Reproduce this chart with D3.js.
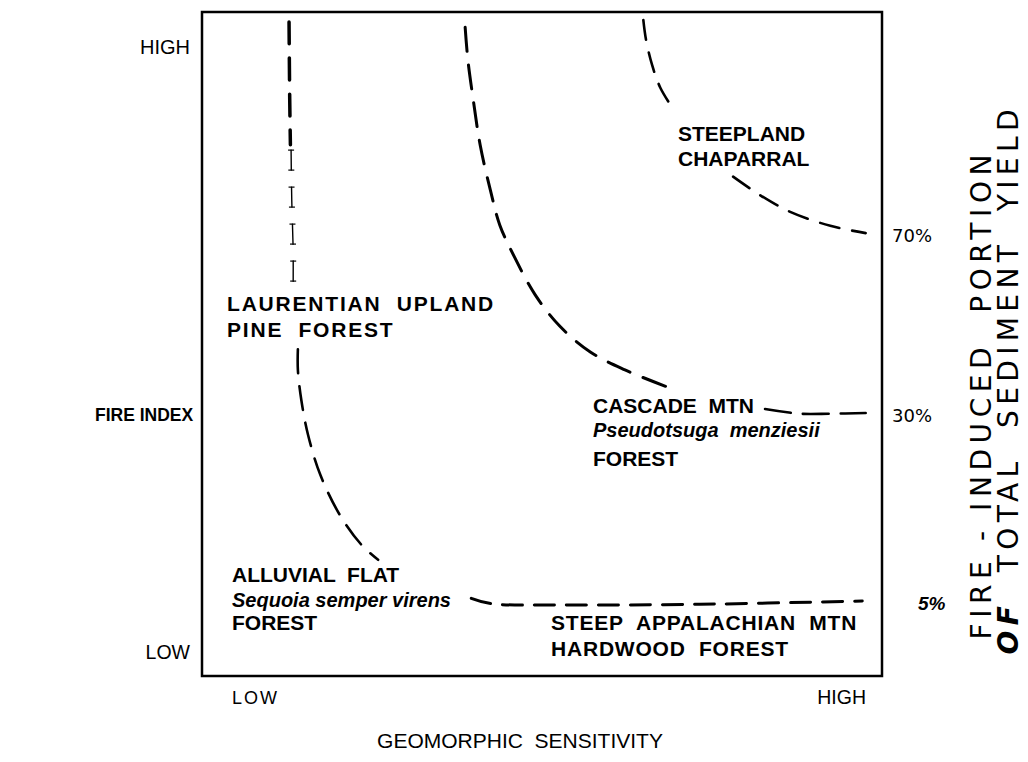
<!DOCTYPE html>
<html>
<head>
<meta charset="utf-8">
<script src="https://cdn.jsdelivr.net/npm/d3@7"></script>
<style>
  body { margin: 0; background: #fff; }
  text { font-family: "Liberation Sans", Arial, sans-serif; fill: #000; white-space: pre; }
</style>
</head>
<body>
<div class="contents"></div>
<script>
var width = 1028;
var height = 762;

// isolines of fire-induced share of sediment yield, [geomorphic sensitivity, fire index], both 0..1
var levels = ["70%", "30%", "5%"];

var line70 = [
  [[0.649, 0.988], [0.653, 0.958], [0.662, 0.920], [0.674, 0.886], [0.696, 0.849]],
  [[0.781, 0.752], [0.821, 0.724], [0.865, 0.699], [0.924, 0.678], [0.976, 0.667]]
];
var line30 = [
  [[0.387, 0.977], [0.391, 0.928], [0.399, 0.867], [0.409, 0.800], [0.424, 0.732], [0.438, 0.679],
   [0.460, 0.630], [0.490, 0.574], [0.526, 0.527], [0.571, 0.488], [0.622, 0.461], [0.685, 0.435]],
  [[0.828, 0.402], [0.879, 0.395], [0.924, 0.395], [0.976, 0.396]]
];
var line5 = [
  [[0.128, 0.985], [0.129, 0.869], [0.130, 0.800]],
  [[0.131, 0.792], [0.132, 0.717], [0.134, 0.642], [0.134, 0.578]],
  [[0.141, 0.492], [0.141, 0.461], [0.146, 0.416], [0.156, 0.363], [0.174, 0.303], [0.203, 0.242],
   [0.235, 0.197], [0.259, 0.175]],
  [[0.396, 0.117], [0.425, 0.109], [0.526, 0.107], [0.732, 0.108], [0.971, 0.113]]
];

var axisEnds = ["LOW", "HIGH"];
var yTitle = "FIRE INDEX";
var xTitle = "GEOMORPHIC  SENSITIVITY";
var rightTitle = [["", "FIRE - INDUCED  PORTION"], ["OF", "  TOTAL  SEDIMENT  YIELD"]];

var regions = [
  ["STEEPLAND", "CHAPARRAL"],
  ["LAURENTIAN  UPLAND", "PINE  FOREST"],
  ["CASCADE  MTN", "Pseudotsuga  menziesii", "FOREST"],
  ["ALLUVIAL  FLAT", "Sequoia semper virens", "FOREST"],
  ["STEEP  APPALACHIAN  MTN", "HARDWOOD  FOREST"]
];

var svg = d3.select(".contents").append("svg")
  .attr("width", width)
  .attr("height", height);

svg.append("rect").attr("width", width).attr("height", height).style("fill", "#fff");

var x = d3.scaleLinear().domain([0, 1]).range([202, 882]);
var y = d3.scaleLinear().domain([0, 1]).range([676, 12]);

// frame
svg.append("rect")
  .attr("x", x(0)).attr("y", y(1))
  .attr("width", x(1) - x(0)).attr("height", y(0) - y(1))
  .style("fill", "none").style("stroke", "#000").style("stroke-width", 2.5);

var line = d3.line()
  .x(function(d){ return x(d[0]); })
  .y(function(d){ return y(d[1]); })
  .curve(d3.curveCatmullRom);

function dashed(segs, styles) {
  segs.forEach(function(s, i){
    var st = styles[i] || styles[styles.length - 1];
    svg.append("path")
      .attr("d", line(s))
      .style("fill", "none")
      .style("stroke", "#000")
      .style("stroke-width", st[0])
      .style("stroke-dasharray", st[1])
      .style("stroke-linecap", "round");
  });
}

dashed(line70, [[2.6, "20,13"]]);
dashed(line30, [[3, "24,14"], [2.6, "26,12"]]);
dashed(line5, [[3.5, "22,14"], [1.4, "20,17"], [2.6, "24,13"], [3, "20,12"]]);

// little serifs on the thin part of the 5% line
var thin = svg.append("path").attr("d", line(line5[1])).style("display", "none");
var tl = thin.node().getTotalLength();
for (var p = 0; p + 20 <= tl; p += 37) {
  [p, p + 20].forEach(function(q){
    var pt = thin.node().getPointAtLength(q);
    svg.append("line")
      .attr("x1", pt.x - 3).attr("x2", pt.x + 3)
      .attr("y1", pt.y).attr("y2", pt.y)
      .style("stroke", "#000").style("stroke-width", 1.2);
  });
}

// level labels at the right end of each line
var ends = [line70[1][line70[1].length - 1], line30[1][line30[1].length - 1], line5[3][line5[3].length - 1]];
svg.selectAll(".lvl")
  .data(levels)
  .enter()
  .append("text")
  .attr("class", "lvl")
  .attr("x", function(d, i){ return i == 2 ? 918 : 892; })
  .attr("y", function(d, i){ return y(ends[i][1]) + 9; })
  .style("font-family", function(d, i){ return i == 2 ? "Liberation Sans" : "DejaVu Sans"; })
  .style("font-weight", function(d, i){ return i == 2 ? "bold" : "normal"; })
  .style("font-style", function(d, i){ return i == 2 ? "italic" : "normal"; })
  .style("font-size", function(d, i){ return i == 2 ? "19px" : "18px"; })
  .text(function(d){ return d; });

// axis end labels
svg.append("text").attr("x", 190).attr("y", 54).attr("text-anchor", "end")
  .style("font-size", "20px").text(axisEnds[1]);
svg.append("text").attr("x", 190).attr("y", 659).attr("text-anchor", "end")
  .style("font-size", "19.5px").text(axisEnds[0]);
svg.append("text").attr("x", 232).attr("y", 704)
  .style("font-size", "18px").style("letter-spacing", "2px").text(axisEnds[0]);
svg.append("text").attr("x", 866).attr("y", 704).attr("text-anchor", "end")
  .style("font-size", "19.5px").text(axisEnds[1]);

svg.append("text").attr("x", 95).attr("y", 421)
  .style("font-size", "17.5px").style("font-weight", "bold").text(yTitle);
svg.append("text").attr("x", 520).attr("y", 748).attr("text-anchor", "middle")
  .style("font-size", "21px").text(xTitle);

var rt = svg.selectAll(".rt")
  .data(rightTitle)
  .enter()
  .append("text")
  .attr("class", "rt")
  .attr("transform", function(d, i){ return "translate(" + (991 + i * 27) + "," + (i == 0 ? 397 : 382) + ") rotate(-90)"; })
  .attr("text-anchor", "middle")
  .attr("textLength", function(d, i){ return i == 0 ? 485 : 545; })
  .attr("lengthAdjust", "spacing")
  .style("font-family", "DejaVu Sans")
  .style("font-size", "28px");
rt.append("tspan")
  .style("font-weight", "bold").style("font-style", "italic")
  .text(function(d){ return d[0]; });
rt.append("tspan")
  .text(function(d){ return d[1]; });

// region labels
var pos = [[678, 141], [227, 311], [593, 413], [232, 582], [551, 630]];
var offs = [[0, 25], [0, 26], [0, 24, 53], [0, 25, 48], [0, 26]];
var spacing = [0, 1.8, 0, 0, 0.8];
regions.forEach(function(r, i){
  svg.selectAll(".reg" + i)
    .data(r)
    .enter()
    .append("text")
    .attr("x", pos[i][0])
    .attr("y", function(d, j){ return pos[i][1] + offs[i][j]; })
    .style("font-size", function(d){ return /[a-z]/.test(d) ? "20px" : "21px"; })
    .style("font-weight", "bold")
    .style("letter-spacing", spacing[i] + "px")
    .style("font-style", function(d){ return /[a-z]/.test(d) ? "italic" : "normal"; })
    .text(function(d){ return d; });
});
</script>
</body>
</html>
